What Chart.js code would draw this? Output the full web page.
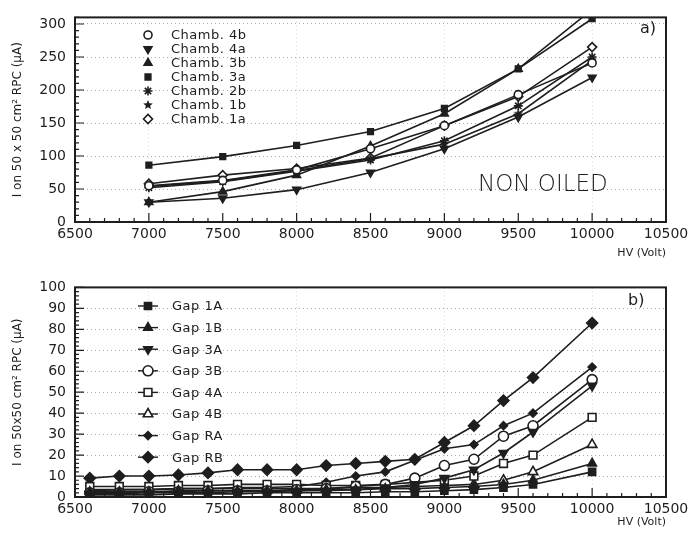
<!DOCTYPE html>
<html>
<head>
<meta charset="utf-8">
<script src="https://cdn.jsdelivr.net/npm/chart.js@4.4.1/dist/chart.umd.min.js"></script>
<style>
  body { margin: 0; background: #fff; }
  #wrap { position: relative; width: 694px; height: 537px; }
  canvas { position: absolute; left: 0; }
  #chartA { top: 0; }
  #chartB { top: 270px; }
</style>
</head>
<body>
<div id="wrap">
  <canvas id="chartA" width="694" height="270"></canvas>
  <canvas id="chartB" width="694" height="267"></canvas>
</div>
<script>
// panel a) - chambers, non oiled
const hvA = [7000, 7500, 8000, 8500, 9000, 9500, 10000];
const chamb4b = [55, 63, 79, 111, 146, 193, 241];
const chamb4a = [30, 36, 49, 75, 111, 159, 219];
const chamb3b = [30, 46, 71, 115, 164, 232, 322];
const chamb3a = [86, 99, 116, 137, 172, 232, 308];
const chamb2b = [52, 61, 77, 94, 123, 176, 250];
const chamb1b = [54, 62, 78, 96, 118, 164, 245];
const chamb1a = [58, 71, 81, 97, 146, 190, 265];

// panel b) - single gaps
const hvB = [6600, 6800, 7000, 7200, 7400, 7600, 7800, 8000, 8200, 8400, 8600, 8800, 9000, 9200, 9400, 9600, 10000];
const gap1A = [1, 1, 1, 1.5, 1.5, 1.5, 2, 2, 2, 2, 2.5, 2.5, 3, 3.5, 4.5, 6, 12];
const gap1B = [2.5, 2.5, 2.5, 3, 3, 3, 3, 3, 3.5, 3.5, 4, 4, 4.5, 5, 6, 8, 16];
const gap3A = [1.5, 1.5, 2, 2, 2, 2.5, 2.5, 3, 3, 3.5, 4.5, 6, 9, 13, 21, 31, 53];
const gap3B = [2, 2, 2.5, 2.5, 3, 3, 3, 3.5, 4, 5, 6, 9, 15, 18, 29, 34, 56];
const gap4A = [5, 5, 5, 5.5, 5.5, 6, 6, 6, 5.5, 5.5, 6, 7, 8, 10, 16, 20, 38];
const gap4B = [3.5, 3.5, 3.5, 4, 4, 4, 4, 4, 4, 4.5, 4.5, 5, 5.5, 6, 8, 12, 25];
const gapRA = [3, 3.5, 3.5, 4, 4, 4.5, 4.5, 5, 7, 10, 12, 17.5, 23, 25, 34, 40, 62];
const gapRB = [9, 10, 10, 10.5, 11.5, 13, 13, 13, 15, 16, 17, 18, 26, 34, 46, 57, 83];

const INK = '#1e1e1e';
const FONT = 'DejaVu Sans';

function pts(xs, ys) {
    return xs.map((x, i) => ({ x: x, y: ys[i] }));
}

// five pointed star marker
function starImage(r) {
    const c = document.createElement('canvas');
    c.width = c.height = 2 * r + 2;
    const g = c.getContext('2d');
    g.fillStyle = INK;
    g.beginPath();
    for (let i = 0; i < 10; i++) {
        const rr = i % 2 ? r * 0.45 : r;
        const ang = -Math.PI / 2 + i * Math.PI / 5;
        g.lineTo(r + 1 + rr * Math.cos(ang), r + 1 + rr * Math.sin(ang));
    }
    g.closePath();
    g.fill();
    return c;
}

function series(label, xs, ys, style, open, radius, rotation) {
    return {
        label: label,
        data: pts(xs, ys),
        borderColor: INK,
        borderWidth: 1.6,
        pointStyle: style,
        pointRotation: rotation || 0,
        pointRadius: radius,
        pointBorderWidth: 1.6,
        pointBorderColor: INK,
        pointBackgroundColor: open ? '#fff' : INK,
        tension: 0
    };
}

// frame round the plot area plus minor ticks on the axes
const framePlugin = {
    id: 'frame',
    afterDraw(chart, args, opts) {
        const { ctx, chartArea: a, scales: { x, y } } = chart;
        ctx.save();
        ctx.strokeStyle = INK;
        ctx.lineWidth = 1.2;
        ctx.beginPath();
        for (let v = x.min; v <= x.max; v += opts.xMinor) {
            const px = x.getPixelForValue(v);
            const len = v % 500 === 0 ? 9 : 4;
            ctx.moveTo(px, a.bottom);
            ctx.lineTo(px, a.bottom - len);
        }
        for (let v = y.min; v <= y.max + 1e-9; v += opts.yMinor) {
            const py = y.getPixelForValue(v);
            const len = Math.abs(v % opts.yMajor) < 1e-9 ? 9 : 4;
            ctx.moveTo(a.left, py);
            ctx.lineTo(a.left + len, py);
        }
        ctx.stroke();
        ctx.lineWidth = 2;
        ctx.strokeRect(a.left, a.top, a.width, a.height);
        ctx.restore();
    }
};

// legend inside the plot area, plus panel notes
const notesPlugin = {
    id: 'notes',
    afterDatasetsDraw(chart, args, opts) {
        const ctx = chart.ctx;
        ctx.save();
        ctx.font = opts.legendFont;
        ctx.letterSpacing = '0.5px';
        ctx.textBaseline = 'middle';
        ctx.textAlign = 'left';
        chart.data.datasets.forEach((ds, i) => {
            const yy = opts.y0 + i * opts.dy;
            ctx.strokeStyle = INK;
            ctx.fillStyle = INK;
            if (opts.segment) {
                ctx.lineWidth = 1.4;
                ctx.beginPath();
                ctx.moveTo(opts.x - 10, yy);
                ctx.lineTo(opts.x + 10, yy);
                ctx.stroke();
            }
            ctx.lineWidth = ds.pointBorderWidth;
            ctx.fillStyle = ds.pointBackgroundColor;
            Chart.helpers.drawPoint(ctx, {
                pointStyle: ds.pointStyle,
                rotation: ds.pointRotation,
                radius: ds.pointRadius,
                borderWidth: ds.pointBorderWidth
            }, opts.x, yy);
            ctx.fillStyle = INK;
            ctx.fillText(ds.label, opts.textX, yy + 1);
        });
        ctx.letterSpacing = '0px';
        (opts.texts || []).forEach(t => {
            ctx.font = t.font;
            ctx.textAlign = 'left';
            ctx.textBaseline = 'alphabetic';
            ctx.fillStyle = INK;
            ctx.fillText(t.text, t.x, t.y);
        });
        ctx.restore();
    }
};

function buildOptions(cfg) {
    return {
        responsive: false,
        animation: false,
        devicePixelRatio: 1,
        layout: { padding: { top: cfg.padTop, right: 28, left: 0, bottom: 0 } },
        plugins: {
            legend: { display: false },
            tooltip: { enabled: false },
            frame: { xMinor: 100, yMinor: cfg.yMinor, yMajor: cfg.yStep },
            notes: cfg.notes
        },
        scales: {
            x: {
                type: 'linear',
                min: 6500,
                max: 10500,
                afterFit: s => { s.height = cfg.xHeight; },
                ticks: {
                    stepSize: 500,
                    padding: 4,
                    color: INK,
                    font: { family: FONT, size: 14 },
                    maxRotation: 0,
                    callback: v => String(v)
                },
                grid: {
                    drawTicks: false,
                    color: c => (c.tick && c.tick.value % 1000 === 0 && c.tick.value > 6500 && c.tick.value < 10500) ? '#d4d4d4' : 'rgba(0,0,0,0)',
                    lineWidth: 1
                },
                border: { display: false, dash: [1, 3] },
                title: {
                    display: true,
                    text: 'HV (Volt)',
                    align: 'end',
                    color: INK,
                    font: { family: FONT, size: 11 },
                    padding: { top: 0, bottom: cfg.titlePad }
                }
            },
            y: {
                min: 0,
                max: cfg.yMax,
                afterFit: s => { s.width = 75; },
                ticks: {
                    stepSize: cfg.yStep,
                    includeBounds: false,
                    padding: 9,
                    color: INK,
                    font: { family: FONT, size: 14 }
                },
                grid: {
                    drawTicks: false,
                    color: c => (c.tick && c.tick.value > 0 && c.tick.value < cfg.yMax) ? '#a8a8a8' : 'rgba(0,0,0,0)',
                    lineWidth: 1
                },
                border: { display: false, dash: [1, 3] },
                title: {
                    display: true,
                    text: cfg.yTitle,
                    color: INK,
                    font: { family: FONT, size: 12 },
                    padding: { top: 11, bottom: 0 }
                }
            }
        }
    };
}

const star = starImage(5);

new Chart(document.getElementById('chartA'), {
    type: 'line',
    data: {
        datasets: [
            series('Chamb. 4b', hvA, chamb4b, 'circle', true, 4),
            series('Chamb. 4a', hvA, chamb4a, 'triangle', false, 4.5, 180),
            series('Chamb. 3b', hvA, chamb3b, 'triangle', false, 4.5),
            series('Chamb. 3a', hvA, chamb3a, 'rect', false, 4),
            series('Chamb. 2b', hvA, chamb2b, 'star', false, 4.5),
            series('Chamb. 1b', hvA, chamb1b, star, false, 5),
            series('Chamb. 1a', hvA, chamb1a, 'rectRot', true, 4.5)
        ]
    },
    options: buildOptions({
        padTop: 7,
        yMax: 310,
        yStep: 50,
        yMinor: 10,
        xHeight: 48,
        titlePad: 10,
        yTitle: 'I on 50 x 50 cm² RPC (μA)',
        notes: {
            x: 148, textX: 171, y0: 35, dy: 14, segment: false,
            legendFont: '13px ' + FONT,
            texts: [
                { text: 'NON OILED', x: 478, y: 191, font: '300 23px ' + FONT },
                { text: 'a)', x: 640, y: 33, font: '16px ' + FONT }
            ]
        }
    }),
    plugins: [framePlugin, notesPlugin]
});

new Chart(document.getElementById('chartB'), {
    type: 'line',
    data: {
        datasets: [
            series('Gap 1A', hvB, gap1A, 'rect', false, 5),
            series('Gap 1B', hvB, gap1B, 'triangle', false, 5),
            series('Gap 3A', hvB, gap3A, 'triangle', false, 5, 180),
            series('Gap 3B', hvB, gap3B, 'circle', true, 5),
            series('Gap 4A', hvB, gap4A, 'rect', true, 5.5),
            series('Gap 4B', hvB, gap4B, 'triangle', true, 5.5),
            series('Gap RA', hvB, gapRA, 'rectRot', false, 4),
            series('Gap RB', hvB, gapRB, 'rectRot', false, 5.5)
        ]
    },
    options: buildOptions({
        padTop: 14,
        yMax: 100,
        yStep: 10,
        yMinor: 2,
        xHeight: 40,
        titlePad: 8,
        yTitle: 'I on 50x50 cm² RPC (μA)',
        notes: {
            x: 148, textX: 172, y0: 36, dy: 21.6, segment: true,
            legendFont: '13px ' + FONT,
            texts: [
                { text: 'b)', x: 628, y: 35, font: '16px ' + FONT }
            ]
        }
    }),
    plugins: [framePlugin, notesPlugin]
});
</script>
</body>
</html>
